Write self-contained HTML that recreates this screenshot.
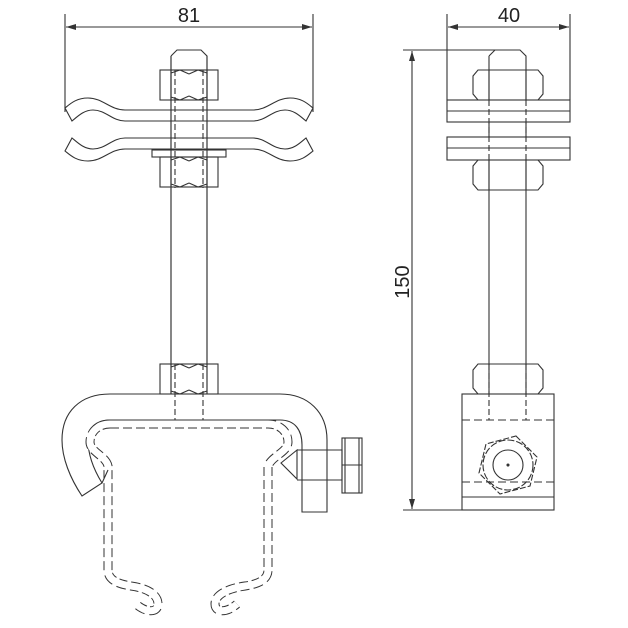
<!DOCTYPE html>
<html><head><style>body{margin:0;background:#fff}svg{display:block}</style></head><body>
<svg width="628" height="628" viewBox="0 0 628 628" xmlns="http://www.w3.org/2000/svg" fill="none" stroke="#333" stroke-width="1.1">
<defs>
<marker id="a" viewBox="0 0 10 6" refX="10" refY="3" markerWidth="10" markerHeight="6" orient="auto-start-reverse" markerUnits="userSpaceOnUse"><path d="M0,0L10,3L0,6z" fill="#333" stroke="none"/></marker>
<g id="plate">
<path d="M125,110 L253,110 C268,110 275,98 290,98 C302,98 308,104 313,108 L306,121 C300,116 294,110 285,110 C272,110 266,121 253,121 L125,121 C112,121 106,110 93,110 C84,110 78,116 72,121 L65,108 C70,104 76,98 88,98 C103,98 110,110 125,110 Z"/>
</g>
<g id="nut">
<rect x="0" y="0" width="58" height="30"/>
<path d="M11,0V30M47,0V30M11,3 L20,0M47,3L38,0M29,4 L20,0M29,4L38,0M11,27L20,30M47,27L38,30M29,26L20,30M29,26L38,30"/>
</g>
</defs>
<g font-family="Liberation Sans, sans-serif" font-size="20" fill="#222" stroke="none">
<text x="189" y="22" text-anchor="middle">81</text>
<text x="509" y="22" text-anchor="middle">40</text>
<text transform="translate(409,282) rotate(-90)" text-anchor="middle">150</text>
</g>
<!-- dimensions -->
<path d="M65,14V112M313,14V112M447,14V100M570,14V100M403,50H520M403,510H465"/>
<path d="M66,27H312" marker-start="url(#a)" marker-end="url(#a)"/>
<path d="M448,27H569" marker-start="url(#a)" marker-end="url(#a)"/>
<path d="M412,51V509" marker-start="url(#a)" marker-end="url(#a)"/>
<!-- LEFT VIEW -->
<path d="M171,56 L177,50 H201 L207,56 V365 M171,56 V365"/>
<use href="#plate"/>
<use href="#plate" transform="translate(0,259) scale(1,-1)"/>
<rect x="152" y="150" width="74" height="7" fill="#fff"/>
<use href="#nut" transform="translate(160,70)"/>
<use href="#nut" transform="translate(160,157)"/>
<use href="#nut" transform="translate(160,364)"/>
<path d="M175,70V188M203,70V188M175,364V420M203,364V420" stroke-dasharray="6 3"/>
<path d="M171,56V394M207,56V394" />
<!-- hook -->
<path d="M160,394 H110 C80,394 62,412 62,440 C62,458 70,478 82,496 L102,483 C94,470 88,455 88,440 C88,428 96,420 110,420 H280 C295,420 302,430 302,445 V512 H327 V440 C327,412 308,394 280,394 H218"/>
<!-- screw -->
<path d="M297,450 L281,463 L297,479 Z M297,450 H342 V480 H297"/>
<rect x="342" y="438" width="20" height="55"/>
<path d="M342,465H362M345,438V493M359,438V493"/>
<!-- dashed channel -->
<g stroke-dasharray="9 4">
<path d="M110,424 H268 C280,424 288,432 288,442 C288,452 272,456 268,466 V570 C268,580 258,584 245,586 C230,588 215,594 215,604 C215,613 227,613 237,604" stroke-width="9" stroke="#333"/>
<path d="M110,424 C98,424 90,432 90,442 C90,452 106,456 108,466 V570 C108,580 118,584 131,586 C146,588 158,594 158,604 C158,613 146,613 136,604" stroke-width="9" stroke="#333"/>
</g>
<g stroke="#fff" stroke-width="7">
<path d="M110,424 H268 C280,424 288,432 288,442 C288,452 272,456 268,466 V570 C268,580 258,584 245,586 C230,588 215,594 215,604 C215,613 227,613 237,604"/>
<path d="M110,424 C98,424 90,432 90,442 C90,452 106,456 108,466 V570 C108,580 118,584 131,586 C146,588 158,594 158,604 C158,613 146,613 136,604"/>
</g>
<path d="M102,483 L108,470" stroke="#333"/>
<!-- RIGHT VIEW -->
<path d="M489,56 L495,50 H520 L526,56 V365 M489,56 V365"/>
<rect x="447" y="100" width="123" height="22" fill="#fff"/><path d="M447,111H570"/>
<rect x="447" y="137" width="123" height="23" fill="#fff"/><path d="M447,148H570"/>
<g id="nr">
<path d="M478,70 H538 L543,76 V94 L538,100 H478 L473,94 V76 Z M489,70V100M526,70V100"/>
</g>
<use href="#nr" transform="translate(0,90)"/>
<use href="#nr" transform="translate(0,294)"/>
<path d="M489,100V160M526,100V160M489,364V420M526,364V420" stroke-dasharray="6 3"/>
<rect x="462" y="394" width="92" height="116"/>
<path d="M462,497H554"/>
<path d="M462,420H554M462,482H554" stroke-dasharray="8 4"/>
<polygon points="516,436 537,457 530,486 500,494 479,473 486,444" stroke-dasharray="6 2"/>
<circle cx="508" cy="465" r="25" stroke-dasharray="7 2"/>
<circle cx="508" cy="465" r="15"/>
<circle cx="508" cy="465" r="1" fill="#333"/>
</svg>
</body></html>
